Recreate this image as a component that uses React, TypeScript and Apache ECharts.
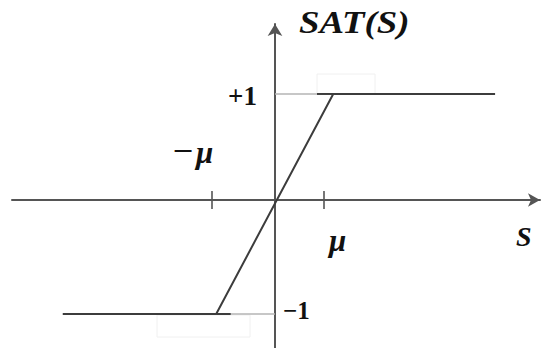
import React, { useEffect, useRef } from "react";
import * as echarts from "echarts";

// Saturation function SAT(S) (x unit ≈ μ, y unit ≈ 1)
const satCurve: [number, number][] = [
  [-3.79, -1.036],
  [-1.05, -1.036],
  [1.04, 0.964],
  [3.93, 0.964],
];
// darker overlaps past the knees
const lowerOverlap: [number, number][] = [[-1.05, -1.036], [-0.79, -1.036]];
const upperOverlap: [number, number][] = [[0.75, 0.964], [1.04, 0.964]];
// light guide segments from the vertical axis to the plateaus
const lowerGuide: [number, number][] = [[-0.79, -1.036], [0, -1.036]];
const upperGuide: [number, number][] = [[0, 0.964], [0.75, 0.964]];
// tick marks on the S axis (−μ and μ)
const tickValues: number[] = [-1.125, 0.875];

const X_MIN = -4.696;
const X_MAX = 4.732;
const Y_MIN = -1.345;
const Y_MAX = 1.6;

const AXIS = "#555555";
const CURVE = "#3c3c3c";
const GUIDE = "#b4b4b4";
const SERIF = "Liberation Serif";

const txt = (
  text: string,
  x: number,
  y: number,
  size: number,
  italic: boolean,
  scaleX = 1
) => ({
  type: "text",
  x,
  y,
  scaleX,
  silent: true,
  style: {
    text,
    fontFamily: SERIF,
    fontSize: size,
    fontWeight: "bold",
    fontStyle: italic ? "italic" : "normal",
    fill: "#111111",
  },
});

export default function App() {
  const ref = useRef<HTMLDivElement>(null);
  useEffect(() => {
    if (!ref.current) return;
    const chart = echarts.init(ref.current, null, { renderer: "svg" });
    const lineSeries = (data: [number, number][], color: string, width: number) => ({
      type: "line",
      data,
      symbol: "none",
      silent: true,
      lineStyle: { color, width },
      z: 3,
    });
    chart.setOption({
      animation: false,
      backgroundColor: "#ffffff",
      grid: { left: 12, right: 4, top: 24, bottom: 0 },
      xAxis: {
        type: "value",
        min: X_MIN,
        max: X_MAX,
        axisLine: {
          onZero: true,
          lineStyle: { color: AXIS, width: 2 },
          symbol: ["none", "arrow"],
          symbolSize: [10, 12],
        },
        axisTick: { show: false },
        axisLabel: { show: false },
        splitLine: { show: false },
      },
      yAxis: {
        type: "value",
        min: Y_MIN,
        max: Y_MAX,
        axisLine: {
          onZero: true,
          lineStyle: { color: AXIS, width: 2 },
          symbol: ["none", "arrow"],
          symbolSize: [11, 12],
        },
        axisTick: { show: false },
        axisLabel: { show: false },
        splitLine: { show: false },
      },
      series: [
        lineSeries(lowerGuide, GUIDE, 1.5),
        lineSeries(upperGuide, GUIDE, 1.5),
        lineSeries(satCurve, CURVE, 2),
        lineSeries(lowerOverlap, CURVE, 2),
        lineSeries(upperOverlap, CURVE, 2),
        {
          type: "scatter",
          data: tickValues.map((v) => [v, 0]),
          symbol: "rect",
          symbolSize: [2, 18],
          itemStyle: { color: AXIS },
          silent: true,
          z: 4,
        },
      ],
      graphic: [
        { type: "rect", shape: { x: 317, y: 74, width: 58, height: 20 }, style: { fill: "none", stroke: "#f0f0f0", lineWidth: 1 }, silent: true },
        { type: "rect", shape: { x: 157, y: 315, width: 93, height: 22 }, style: { fill: "none", stroke: "#f0f0f0", lineWidth: 1 }, silent: true },
        txt("SAT(S)", 299, 6, 32, true, 1.15),
        txt("+1", 228, 82, 27, false),
        txt("−1", 283, 298, 25, false),
        txt("−", 173, 137, 28, false, 1.3),
        txt("μ", 196, 137, 31, true),
        txt("μ", 329, 225, 31, true),
        txt("S", 516, 222, 28, true),
      ],
    });
    return () => chart.dispose();
  }, []);
  return (
    <div
      ref={ref}
      style={{ position: "absolute", left: 0, top: 0, width: 544, height: 348 }}
    />
  );
}
